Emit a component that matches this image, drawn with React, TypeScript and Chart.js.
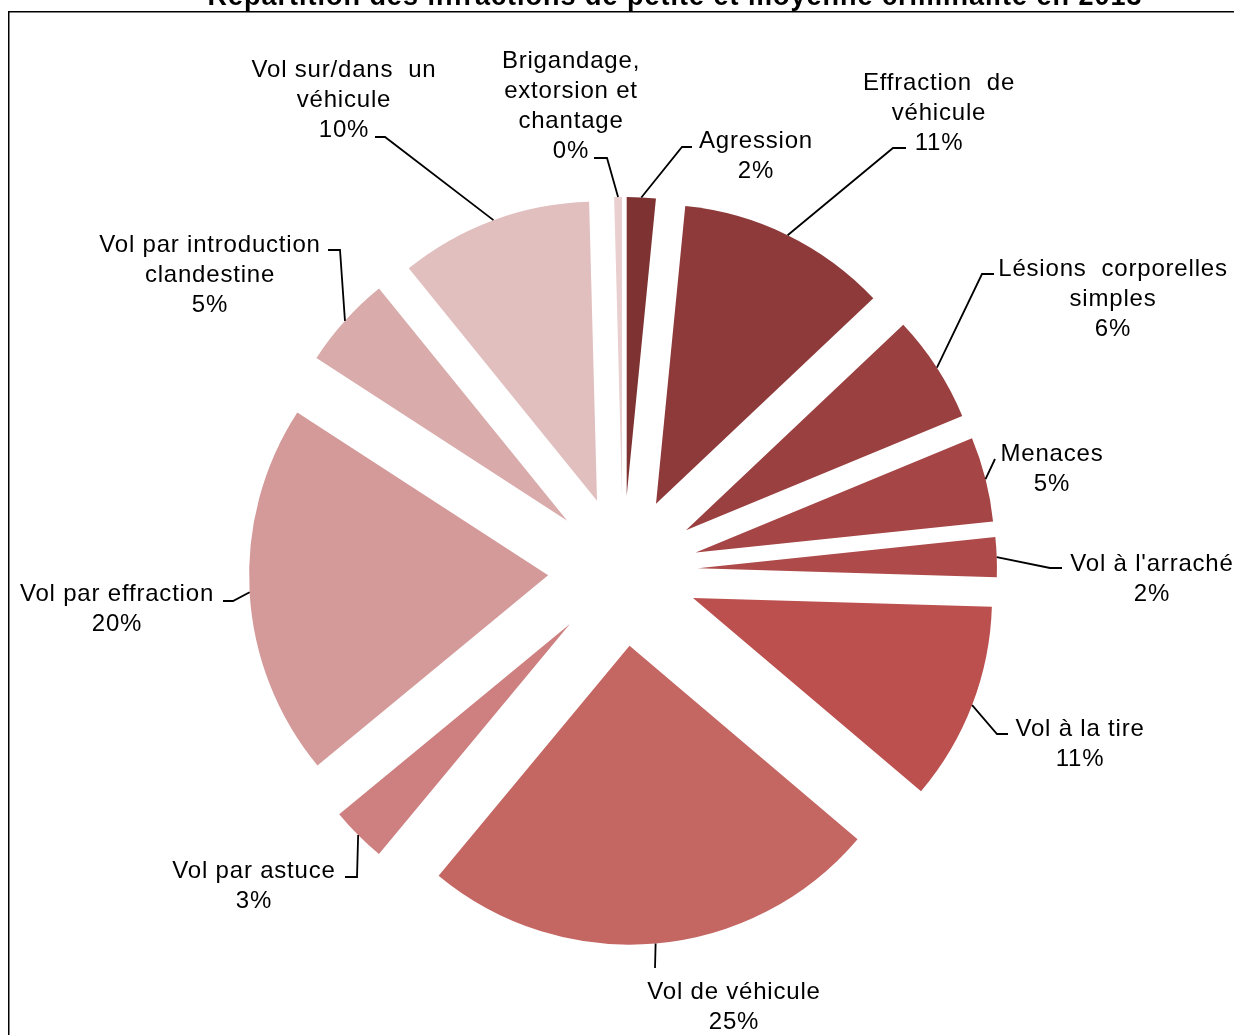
import React, { useEffect, useRef } from 'react';
import { Chart, registerables } from 'chart.js';

Chart.register(...registerables);

// ---- data ----
const chartTitle = 'Répartition des infractions de petite et moyenne criminalité en 2013';
const categories = [
  'Agression',
  'Effraction  de\nvéhicule',
  'Lésions  corporelles\nsimples',
  'Menaces',
  "Vol à l'arraché",
  'Vol à la tire',
  'Vol de véhicule',
  'Vol par astuce',
  'Vol par effraction',
  'Vol par introduction\nclandestine',
  'Vol sur/dans  un\nvéhicule',
  'Brigandage,\nextorsion et\nchantage',
];
const shares = [1.56, 11.39, 5.81, 4.58, 2.14, 10.72, 24.83, 3.0, 20.14, 5.0, 10.42, 0.42];
const sliceColors = [
  '#7f3232', '#8e3a3a', '#9a4040', '#a54545', '#af4a4a', '#bb504e',
  '#c46662', '#cd807f', '#d49999', '#d9abab', '#e1bfbf', '#e9cfcf',
];

// ---- layout (label placement, leader elbows) ----
type LabelPos = { x: number; y: number; elbow: [number, number]; stub: [number, number] | null };
const labelLayout: LabelPos[] = [
  { x: 756, y: 141, elbow: [682, 147], stub: [692, 147] },
  { x: 939, y: 83, elbow: [893, 148], stub: [906, 148] },
  { x: 1113, y: 269, elbow: [982, 274], stub: [994, 274] },
  { x: 1052, y: 454, elbow: [995, 459], stub: null },
  { x: 1152, y: 564, elbow: [1050, 568], stub: [1062, 568] },
  { x: 1080, y: 729, elbow: [997, 734], stub: [1008, 734] },
  { x: 734, y: 992, elbow: [655, 968], stub: null },
  { x: 254, y: 871, elbow: [357, 877], stub: [345, 877] },
  { x: 117, y: 594, elbow: [233, 601], stub: [223, 601] },
  { x: 210, y: 245, elbow: [340, 250], stub: [328, 250] },
  { x: 344, y: 70, elbow: [385, 137], stub: [375, 137] },
  { x: 571, y: 61, elbow: [607, 158], stub: [594, 158] },
];

const EXPLODE = 75;
const RADIUS = 299;
const FONT = '"Liberation Sans", Arial, sans-serif';
const LINE_H = 30;

const explodePlugin = {
  id: 'explodeDraw',
  beforeDatasetDraw(chart: any, args: any) {
    const ctx = chart.ctx;
    args.meta.data.forEach((arc: any) => {
      const mid = (arc.startAngle + arc.endAngle) / 2;
      ctx.save();
      ctx.translate(Math.cos(mid) * EXPLODE, Math.sin(mid) * EXPLODE);
      arc.draw(ctx);
      ctx.restore();
    });
    return false;
  },
};

const decorPlugin = {
  id: 'decor',
  beforeDraw(chart: any) {
    const ctx = chart.ctx;
    ctx.save();
    ctx.fillStyle = '#ffffff';
    ctx.fillRect(0, 0, chart.width, chart.height);
    ctx.strokeStyle = '#000000';
    ctx.lineWidth = 1.5;
    ctx.strokeRect(8.75, 11.75, 1400, 1100);
    ctx.fillStyle = '#000000';
    ctx.font = `bold 27px ${FONT}`;
    (ctx as any).letterSpacing = '1px';
    ctx.textAlign = 'center';
    ctx.textBaseline = 'alphabetic';
    ctx.fillText(chartTitle, 675, 5);
    ctx.restore();
  },
  afterDraw(chart: any) {
    const ctx = chart.ctx;
    const meta = chart.getDatasetMeta(0);
    const values: number[] = chart.data.datasets[0].data;
    const total = values.reduce((a, b) => a + b, 0);
    ctx.save();
    meta.data.forEach((arc: any, i: number) => {
      const lay = labelLayout[i];
      const mid = (arc.startAngle + arc.endAngle) / 2;
      const dist = EXPLODE + arc.outerRadius;
      const ax = arc.x + Math.cos(mid) * dist;
      const ay = arc.y + Math.sin(mid) * dist;
      ctx.strokeStyle = '#000000';
      ctx.lineWidth = 1.8;
      ctx.beginPath();
      ctx.moveTo(ax, ay);
      ctx.lineTo(lay.elbow[0], lay.elbow[1]);
      if (lay.stub) ctx.lineTo(lay.stub[0], lay.stub[1]);
      ctx.stroke();

      const lines = String(chart.data.labels[i]).split('\n');
      lines.push(Math.round((values[i] / total) * 100) + '%');
      ctx.fillStyle = '#000000';
      ctx.font = `24px ${FONT}`;
      (ctx as any).letterSpacing = '0.8px';
      ctx.textAlign = 'center';
      ctx.textBaseline = 'middle';
      lines.forEach((t, k) => ctx.fillText(t, lay.x, lay.y + k * LINE_H));
    });
    ctx.restore();
  },
};

export default function App() {
  const ref = useRef<HTMLCanvasElement | null>(null);
  useEffect(() => {
    if (!ref.current) return;
    const chart = new Chart(ref.current, {
      type: 'pie',
      data: {
        labels: categories,
        datasets: [
          {
            data: shares,
            backgroundColor: sliceColors,
            borderWidth: 0,
            offset: 0,
            clip: false,
          } as any,
        ],
      },
      options: {
        responsive: false,
        maintainAspectRatio: false,
        devicePixelRatio: 1,
        animation: false,
        radius: RADIUS,
        rotation: 0,
        layout: { padding: { left: 12, right: 0, top: 107, bottom: 0 } },
        plugins: {
          legend: { display: false },
          tooltip: { enabled: false },
          title: { display: false },
        },
      } as any,
      plugins: [explodePlugin, decorPlugin],
    });
    return () => chart.destroy();
  }, []);
  return (
    <div style={{ position: 'absolute', left: 0, top: 0, width: 1234, height: 1035, overflow: 'hidden' }}>
      <canvas ref={ref} width={1234} height={1035} style={{ display: 'block' }} />
    </div>
  );
}
